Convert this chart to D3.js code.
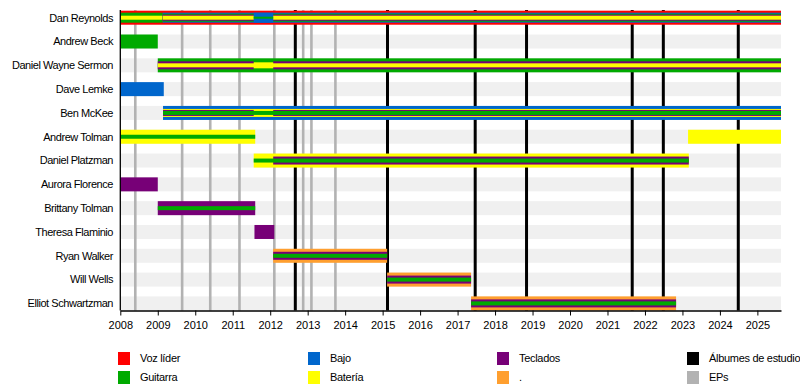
<!DOCTYPE html>
<html><head><meta charset="utf-8">
<script src="https://cdn.jsdelivr.net/npm/d3@7"></script>
<style>
body{margin:0;background:#fff}
svg{display:block}
text{font-family:"Liberation Sans",Arial,sans-serif;fill:#000}
</style>
</head><body><svg id="c" width="800" height="390"></svg>
<script>
// ---------- DATA ----------
const members = ["Dan Reynolds","Andrew Beck","Daniel Wayne Sermon","Dave Lemke","Ben McKee",
  "Andrew Tolman","Daniel Platzman","Aurora Florence","Brittany Tolman","Theresa Flaminio",
  "Ryan Walker","Will Wells","Elliot Schwartzman"];
const roles = ["Voz líder","Guitarra","Bajo","Batería","Teclados","."];
const roleColors = ["#ff0000","#00aa00","#0066cc","#ffff00","#770077","#ff9f2f"];
const lineLegend = ["Álbumes de estudio","EPs"];
const lineColors = ["#000000","#b2b2b2"];
const studioAlbums = [2012.67, 2015.13, 2017.47, 2018.84, 2021.66, 2022.49, 2024.49];
const eps = [2008.40, 2009.65, 2010.40, 2011.18, 2012.11, 2012.88, 2013.10, 2013.74];
const yearTicks = d3.range(2008, 2026);
const START = 2008, END = 2025.63;
// [member, from, till, role, layer]  (layer 0 = outermost stripe)
const periods = [
 ["Dan Reynolds", START, END, "Voz líder", 0],
 ["Dan Reynolds", START, 2009.13, "Guitarra", 1],
 ["Dan Reynolds", START, 2009.13, "Batería", 4],
 ["Dan Reynolds", 2009.13, END, "Bajo", 1],
 ["Dan Reynolds", 2009.13, END, "Guitarra", 2],
 ["Dan Reynolds", 2009.13, END, "Teclados", 3],
 ["Dan Reynolds", 2009.13, END, "Batería", 4],
 ["Dan Reynolds", 2011.56, 2012.08, "Bajo", 1],
 ["Dan Reynolds", 2011.56, 2012.08, "Guitarra", 5],
 ["Andrew Beck", START, 2009.0, "Guitarra", 0],
 ["Daniel Wayne Sermon", 2009.0, END, "Guitarra", 0],
 ["Daniel Wayne Sermon", 2009.0, 2011.56, "Teclados", 2],
 ["Daniel Wayne Sermon", 2012.08, END, "Teclados", 2],
 ["Daniel Wayne Sermon", 2009.0, END, "Batería", 4],
 ["Daniel Wayne Sermon", 2011.56, 2012.08, "Batería", 3],
 ["Dave Lemke", START, 2009.16, "Bajo", 0],
 ["Ben McKee", 2009.14, END, "Bajo", 0],
 ["Ben McKee", 2009.14, END, "Batería", 2],
 ["Ben McKee", 2009.14, 2011.56, "Teclados", 3],
 ["Ben McKee", 2012.08, END, "Teclados", 3],
 ["Ben McKee", 2009.14, END, "Guitarra", 4],
 ["Andrew Tolman", START, 2011.6, "Batería", 0],
 ["Andrew Tolman", START, 2011.6, "Guitarra", 4],
 ["Andrew Tolman", 2023.15, END, "Batería", 0],
 ["Daniel Platzman", 2011.56, 2023.17, "Batería", 0],
 ["Daniel Platzman", 2012.08, 2023.17, "Teclados", 2],
 ["Daniel Platzman", 2011.56, 2023.17, "Guitarra", 4],
 ["Aurora Florence", START, 2009.0, "Teclados", 0],
 ["Brittany Tolman", 2009.0, 2011.6, "Teclados", 0],
 ["Brittany Tolman", 2009.0, 2011.6, "Guitarra", 4],
 ["Theresa Flaminio", 2011.58, 2012.11, "Teclados", 0],
 ["Ryan Walker", 2012.08, 2015.12, ".", 0],
 ["Ryan Walker", 2012.08, 2015.12, "Teclados", 2],
 ["Ryan Walker", 2012.08, 2015.12, "Guitarra", 4],
 ["Will Wells", 2015.12, 2017.36, ".", 0],
 ["Will Wells", 2015.12, 2017.36, "Teclados", 2],
 ["Will Wells", 2015.12, 2017.36, "Guitarra", 4],
 ["Elliot Schwartzman", 2017.36, 2022.83, ".", 0],
 ["Elliot Schwartzman", 2017.36, 2022.83, "Teclados", 2],
 ["Elliot Schwartzman", 2017.36, 2022.83, "Guitarra", 4]
];

// ---------- CHART ----------
const svg = d3.select("#c");
const plotLeft = 120.3, plotRight = 781, plotTop = 10, axisY = 310.5;
const x = d3.scaleLinear().domain([START, END]).range([plotLeft, plotRight]);
const y = d3.scalePoint().domain(members).range([17.7, 303.4]);
const color = d3.scaleOrdinal().domain(roles).range(roleColors);
const layerWidth = [14, 10, 8, 6, 4, 2];

// row bands
svg.append("g").selectAll("rect").data(members).join("rect")
  .attr("x", plotLeft).attr("width", plotRight - plotLeft)
  .attr("y", d => y(d) - 7).attr("height", 14).attr("fill", "#f0f0f0");

// EP and album lines
svg.append("g").selectAll("line").data(eps).join("line")
  .attr("x1", d => x(d)).attr("x2", d => x(d))
  .attr("y1", plotTop).attr("y2", axisY)
  .attr("stroke", lineColors[1]).attr("stroke-width", 2.6);
svg.append("g").selectAll("line").data(studioAlbums).join("line")
  .attr("x1", d => x(d)).attr("x2", d => x(d))
  .attr("y1", plotTop).attr("y2", axisY)
  .attr("stroke", lineColors[0]).attr("stroke-width", 3);

// bars
svg.append("g").selectAll("rect").data(periods).join("rect")
  .attr("x", d => x(d[1])).attr("width", d => x(d[2]) - x(d[1]))
  .attr("y", d => y(d[0]) - layerWidth[d[4]] / 2)
  .attr("height", d => layerWidth[d[4]])
  .attr("fill", d => color(d[3]));

// member labels
svg.append("g").selectAll("text").data(members).join("text")
  .attr("x", 113).attr("y", d => y(d)).attr("dy", "0.35em")
  .attr("text-anchor", "end").attr("font-size", 11).attr("letter-spacing", -0.45)
  .text(d => d);

// axes
const ax = svg.append("g").attr("transform", `translate(0,${axisY})`)
  .call(d3.axisBottom(x).tickValues(yearTicks).tickFormat(d3.format("d")).tickSize(5).tickSizeOuter(0));
ax.select(".domain").attr("stroke", "#000").attr("stroke-width", 1.3);
ax.selectAll(".tick line").attr("stroke", "#000");
ax.selectAll(".tick text").attr("font-size", 11).attr("font-family", "Liberation Sans, Arial, sans-serif")
  .attr("y", 10.5).attr("fill", "#000");
svg.append("line").attr("x1", plotLeft).attr("x2", plotLeft).attr("y1", plotTop).attr("y2", axisY)
  .attr("stroke", "#000").attr("stroke-width", 1.3);

// legend
const legendItems = roles.map((r, i) => ({label: r, color: roleColors[i]}))
  .concat(lineLegend.map((r, i) => ({label: r, color: lineColors[i]})));
const colX = [118, 308, 497, 687];
const rowY = [358.5, 377.5];
const lg = svg.append("g").selectAll("g").data(legendItems).join("g")
  .attr("transform", (d, i) => `translate(${colX[Math.floor(i / 2)]},${rowY[i % 2]})`);
lg.append("rect").attr("x", 0).attr("y", -6.5).attr("width", 12).attr("height", 13).attr("fill", d => d.color);
lg.append("text").attr("x", 22).attr("dy", "0.35em").attr("font-size", 11).attr("letter-spacing", -0.3)
  .text(d => d.label);
</script>
</body></html>
